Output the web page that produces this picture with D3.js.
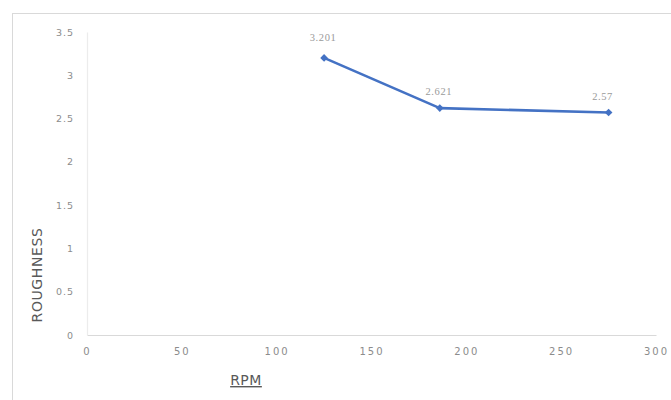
<!DOCTYPE html>
<html><head><meta charset="utf-8">
<script src="https://cdn.jsdelivr.net/npm/d3@7"></script>
<style>body{margin:0;background:#fff}svg{display:block}</style>
</head><body><svg id="c" width="671" height="400"></svg>
<script>
const rpm = [125, 186, 275];
const roughness = [3.201, 2.621, 2.57];
const valueLabels = ["3.201", "2.621", "2.57"];
const xTicks = [0, 50, 100, 150, 200, 250, 300];
const yTicks = [0, 0.5, 1, 1.5, 2, 2.5, 3, 3.5];
const xTitle = "RPM";
const yTitle = "ROUGHNESS";

const svg = d3.select("#c");
// chart area border
svg.append("rect").attr("x",12.5).attr("y",13.5).attr("width",700).attr("height",420)
  .attr("fill","#fff").attr("stroke","#d9d9d9").attr("stroke-width",1);

const x = d3.scaleLinear().domain([0,300]).range([87,656]);
const y = d3.scaleLinear().domain([0,3.5]).range([335,32]);

// axes
const xAxis = svg.append("g").attr("transform",`translate(0,${y(0)})`)
  .call(d3.axisBottom(x).tickValues(xTicks).tickSize(0).tickPadding(13).tickFormat(d3.format("d")));
xAxis.select(".domain").attr("stroke","#d9d9d9").attr("stroke-width",1.2);
xAxis.selectAll("text").attr("fill","#8c8c8c").attr("font-family","DejaVu Sans, sans-serif")
  .attr("font-size",10).attr("letter-spacing",2);

const yAxis = svg.append("g").attr("transform",`translate(${x(0)},0)`)
  .call(d3.axisLeft(y).tickValues(yTicks).tickSize(0).tickPadding(13).tickFormat(d=>String(d)));
yAxis.select(".domain").attr("stroke","#ececec").attr("stroke-width",1.2);
yAxis.selectAll("text").attr("fill","#8c8c8c").attr("font-family","DejaVu Sans, sans-serif")
  .attr("font-size",9.5).attr("letter-spacing",1);

// titles
svg.append("text").attr("transform","translate(42,275) rotate(-90)")
  .attr("text-anchor","middle").attr("font-family","DejaVu Sans, sans-serif")
  .attr("font-size",14).attr("letter-spacing",0.6).attr("fill","#595959").text(yTitle);
svg.append("text").attr("x",246).attr("y",385).attr("text-anchor","middle")
  .attr("font-family","DejaVu Sans, sans-serif").attr("font-size",14)
  .attr("letter-spacing",0.5)
  .attr("fill","#595959").attr("text-decoration","underline").text(xTitle);

// line
const pts = rpm.map((r,i)=>({x:r,y:roughness[i],l:valueLabels[i]}));
svg.append("path").datum(pts).attr("fill","none").attr("stroke","#4472c4")
  .attr("stroke-width",2.6).attr("stroke-linejoin","round")
  .attr("d", d3.line().x(d=>x(d.x)).y(d=>y(d.y)));
svg.selectAll(".m").data(pts).join("path").attr("class","m")
  .attr("transform",d=>`translate(${x(d.x)},${y(d.y)})`)
  .attr("d", d3.symbol(d3.symbolDiamond2, 38)).attr("fill","#4472c4");
svg.selectAll(".lbl").data(pts).join("text").attr("class","lbl")
  .attr("x",(d,i)=>x(d.x)-(i===2?6:1)).attr("y",(d,i)=>y(d.y)-(i===0?17:13))
  .attr("text-anchor","middle").attr("font-family","Liberation Serif, serif")
  .attr("font-size",10.5).attr("letter-spacing",0.6).attr("fill","#9a9a9a").text(d=>d.l);
</script></body></html>
